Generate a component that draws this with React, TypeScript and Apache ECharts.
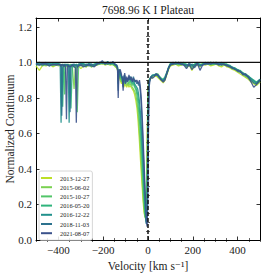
import React, { useEffect, useRef } from "react";
import * as echarts from "echarts";

// Velocity grid (km/s), shared by all epochs
const VELOCITY = [
  -500, -485, -470, -455, -440, -425, -410,
  -398, -392, -388, -385, -381, -376, -372, -368, -364, -360, -356, -352, -348, -344, -338, -330, -324, -320, -316, -310,
  -300, -288, -276, -264, -252, -240, -228, -216, -204, -192, -180, -168, -156, -146,
  -140, -136, -133, -130, -124, -118, -114, -111, -108, -104, -100, -95, -90, -85, -80, -75, -70, -65, -60, -55, -50,
  -46, -42, -38, -34, -30, -26, -22, -18, -14, -10, -7, -4, -1, 2, 5, 9, 14, 20,
  28, 36, 44, 52, 60, 68, 76, 84, 92, 100,
  112, 124, 136, 148, 160, 172, 184, 196, 208, 220, 232, 244,
  256, 268, 280, 292, 304, 316, 328, 340, 352, 364, 376, 388, 400, 412, 424, 436, 448, 460, 472, 484, 500,
];

const EPOCHS = ["2013-12-27", "2015-06-02", "2015-10-27", "2016-05-20", "2016-12-22", "2018-11-03", "2021-08-07"];
const COLORS = ["#bddf26", "#7ad151", "#52c569", "#2fb47c", "#21918c", "#2c728e", "#3b528b"];

const FLUX_2013 = [
  0.98, 0.955, 0.985, 0.98, 0.99, 0.975, 0.985,
  0.98, 0.985, 0.975, 0.98, 0.985, 0.975, 0.98, 0.985, 0.975, 0.98, 0.985, 0.975, 0.98, 0.985, 0.975, 0.98, 0.97, 0.985, 0.975, 0.98,
  0.965, 0.98, 0.975, 0.985, 0.975, 0.98, 0.985, 0.99, 0.995, 0.985, 0.99, 0.985, 0.99, 0.975,
  0.97, 0.955, 0.94, 0.93, 0.9, 0.88, 0.89, 0.87, 0.86, 0.88, 0.87, 0.86, 0.88, 0.86, 0.87, 0.86, 0.85, 0.84, 0.82, 0.79, 0.75,
  0.7, 0.63, 0.55, 0.46, 0.38, 0.3, 0.22, 0.16, 0.13, 0.14, 0.25, 0.55, 0.8, 0.88, 0.9, 0.905, 0.91, 0.915,
  0.92, 0.925, 0.915, 0.905, 0.895, 0.885, 0.9, 0.93, 0.96, 0.98,
  0.985, 0.99, 0.98, 0.985, 0.99, 0.97, 0.985, 0.955, 0.98, 0.985, 0.975, 0.99,
  0.985, 0.99, 0.98, 0.985, 0.99, 0.98, 0.975, 0.985, 0.975, 0.97, 0.96, 0.955, 0.945, 0.935, 0.925, 0.915, 0.905, 0.89, 0.88, 0.87, 0.89,
];

const FLUX_2015A = [
  0.985, 0.99, 0.98, 0.995, 0.99, 0.98, 0.99,
  0.985, 0.99, 0.98, 0.985, 0.99, 0.98, 0.985, 0.99, 0.98, 0.985, 0.99, 0.98, 0.985, 0.975, 0.98, 0.85, 0.98, 0.975, 0.98, 0.985,
  0.98, 0.985, 0.975, 0.99, 0.98, 0.985, 0.99, 0.995, 0.99, 1.0, 0.99, 0.995, 0.985, 0.98,
  0.97, 0.96, 0.93, 0.94, 0.91, 0.89, 0.9, 0.88, 0.875, 0.89, 0.88, 0.87, 0.885, 0.87, 0.88, 0.87, 0.86, 0.85, 0.84, 0.82, 0.78,
  0.74, 0.68, 0.6, 0.52, 0.43, 0.34, 0.25, 0.18, 0.13, 0.12, 0.2, 0.45, 0.75, 0.87, 0.9, 0.91, 0.915, 0.92,
  0.93, 0.93, 0.92, 0.915, 0.9, 0.895, 0.905, 0.935, 0.965, 0.985,
  0.99, 0.995, 0.985, 0.99, 0.995, 0.98, 0.985, 0.97, 0.985, 0.99, 0.985, 0.995,
  0.99, 0.995, 0.985, 0.99, 1.0, 0.99, 0.985, 0.99, 0.98, 0.975, 0.965, 0.96, 0.95, 0.945, 0.93, 0.92, 0.91, 0.895, 0.885, 0.875, 0.89,
];

const FLUX_2015B = [
  0.99, 0.985, 0.995, 0.99, 0.98, 0.99, 0.985,
  0.99, 0.985, 0.99, 0.98, 0.985, 0.99, 0.82, 0.985, 0.98, 0.99, 0.985, 0.98, 0.99, 0.985, 0.98, 0.975, 0.985, 0.98, 0.72, 0.98,
  0.985, 0.98, 0.99, 0.985, 0.975, 0.99, 0.985, 0.995, 1.0, 0.99, 0.995, 0.99, 0.995, 0.98,
  0.975, 0.97, 0.92, 0.95, 0.92, 0.9, 0.89, 0.88, 0.9, 0.89, 0.88, 0.9, 0.89, 0.88, 0.9, 0.88, 0.87, 0.88, 0.86, 0.85, 0.82,
  0.78, 0.73, 0.67, 0.59, 0.5, 0.41, 0.31, 0.22, 0.15, 0.12, 0.14, 0.3, 0.68, 0.86, 0.895, 0.91, 0.92, 0.925,
  0.925, 0.935, 0.935, 0.92, 0.905, 0.9, 0.91, 0.94, 0.97, 0.99,
  0.995, 0.99, 1.0, 0.985, 0.99, 0.975, 0.99, 0.975, 0.99, 1.0, 0.98, 0.99,
  0.995, 0.99, 1.0, 0.99, 0.995, 0.99, 0.985, 0.995, 0.99, 0.98, 0.97, 0.965, 0.96, 0.95, 0.94, 0.93, 0.915, 0.905, 0.895, 0.88, 0.895,
];

const FLUX_2016A = [
  0.985, 0.995, 0.99, 1.0, 0.985, 0.995, 0.99,
  0.995, 0.99, 0.985, 0.98, 0.75, 0.975, 0.985, 0.99, 0.985, 0.98, 0.99, 0.985, 0.975, 0.74, 0.975, 0.99, 0.98, 0.99, 0.985, 0.99,
  0.99, 0.995, 0.98, 0.99, 0.985, 0.99, 1.0, 0.99, 1.0, 0.99, 1.0, 0.995, 0.99, 0.985,
  0.98, 0.97, 0.9, 0.95, 0.93, 0.92, 0.9, 0.89, 0.88, 0.91, 0.9, 0.89, 0.9, 0.91, 0.9, 0.89, 0.88, 0.89, 0.87, 0.86, 0.84,
  0.82, 0.78, 0.73, 0.66, 0.58, 0.48, 0.37, 0.27, 0.18, 0.11, 0.1, 0.22, 0.6, 0.84, 0.9, 0.905, 0.92, 0.925,
  0.93, 0.93, 0.925, 0.92, 0.91, 0.905, 0.92, 0.945, 0.975, 0.995,
  0.99, 1.0, 0.995, 0.99, 1.0, 0.985, 0.99, 0.98, 0.99, 0.995, 0.985, 0.99,
  0.99, 1.0, 0.995, 0.99, 0.995, 0.985, 1.0, 0.99, 0.985, 0.985, 0.97, 0.97, 0.955, 0.955, 0.94, 0.935, 0.925, 0.91, 0.9, 0.89, 0.905,
];

const FLUX_2016B = [
  0.99, 1.0, 0.99, 0.985, 0.995, 0.99, 0.995,
  0.99, 0.985, 0.66, 0.975, 0.99, 0.985, 0.99, 0.98, 0.99, 0.985, 0.975, 0.66, 0.975, 0.985, 0.99, 0.98, 0.985, 0.99, 0.98, 0.985,
  0.995, 0.99, 0.985, 0.995, 0.99, 0.98, 0.99, 1.0, 1.0, 0.995, 1.005, 0.99, 1.0, 0.99,
  0.985, 0.975, 0.88, 0.96, 0.94, 0.91, 0.92, 0.87, 0.9, 0.92, 0.89, 0.905, 0.91, 0.9, 0.92, 0.91, 0.89, 0.9, 0.88, 0.87, 0.86,
  0.85, 0.82, 0.78, 0.72, 0.64, 0.54, 0.43, 0.32, 0.21, 0.12, 0.09, 0.16, 0.5, 0.8, 0.89, 0.9, 0.92, 0.93,
  0.93, 0.935, 0.93, 0.915, 0.905, 0.9, 0.915, 0.94, 0.97, 0.99,
  1.0, 0.995, 0.99, 1.0, 0.985, 0.99, 0.98, 0.99, 0.985, 0.995, 0.99, 0.985,
  1.0, 0.995, 0.99, 0.995, 1.0, 0.99, 0.995, 0.985, 0.99, 0.98, 0.975, 0.965, 0.96, 0.95, 0.935, 0.93, 0.92, 0.91, 0.895, 0.885, 0.9,
];

const FLUX_2018 = [
  0.995, 0.99, 0.985, 0.995, 0.99, 0.985, 0.99,
  0.985, 0.99, 0.975, 0.7, 0.97, 0.985, 0.99, 0.98, 0.985, 0.99, 0.975, 0.98, 0.72, 0.975, 0.985, 0.99, 0.98, 0.985, 0.975, 0.99,
  0.99, 0.985, 0.99, 0.98, 0.99, 0.985, 0.995, 1.0, 0.995, 1.0, 0.99, 1.0, 0.995, 0.99,
  0.985, 0.97, 0.84, 0.96, 0.95, 0.92, 0.91, 0.86, 0.92, 0.93, 0.9, 0.91, 0.9, 0.92, 0.91, 0.9, 0.9, 0.92, 0.89, 0.9, 0.88,
  0.89, 0.87, 0.88, 0.83, 0.76, 0.65, 0.52, 0.4, 0.27, 0.16, 0.09, 0.1, 0.35, 0.7, 0.88, 0.91, 0.915, 0.925,
  0.925, 0.93, 0.925, 0.91, 0.9, 0.895, 0.91, 0.935, 0.965, 0.99,
  0.995, 0.99, 1.0, 0.99, 0.99, 0.98, 0.995, 0.985, 0.97, 0.99, 0.98, 0.99,
  0.995, 0.99, 1.0, 0.995, 0.99, 0.995, 0.985, 0.99, 0.985, 0.98, 0.965, 0.965, 0.95, 0.945, 0.94, 0.925, 0.92, 0.9, 0.885, 0.88, 0.905,
];

const FLUX_2021 = [
  0.99, 0.985, 0.995, 0.99, 0.98, 0.99, 0.985,
  0.99, 0.985, 0.98, 0.99, 0.985, 0.98, 0.985, 0.97, 0.68, 0.97, 0.985, 0.98, 0.975, 0.98, 0.985, 0.975, 0.97, 0.66, 0.97, 0.98,
  0.985, 0.975, 0.98, 0.99, 0.98, 0.975, 0.99, 0.995, 1.01, 0.99, 1.0, 0.995, 1.005, 0.985,
  0.98, 0.96, 0.8, 0.95, 0.96, 0.93, 0.9, 0.84, 0.91, 0.94, 0.88, 0.92, 0.89, 0.93, 0.9, 0.92, 0.89, 0.91, 0.9, 0.89, 0.9,
  0.89, 0.88, 0.9, 0.86, 0.8, 0.7, 0.58, 0.45, 0.32, 0.2, 0.1, 0.075, 0.2, 0.6, 0.86, 0.9, 0.92, 0.91,
  0.92, 0.935, 0.93, 0.915, 0.9, 0.89, 0.9, 0.94, 0.97, 0.985,
  0.99, 1.0, 0.995, 0.99, 0.985, 0.965, 0.99, 0.96, 0.98, 0.995, 0.955, 0.985,
  0.99, 0.995, 0.99, 1.0, 0.995, 0.985, 0.99, 0.99, 0.98, 0.975, 0.97, 0.96, 0.955, 0.95, 0.93, 0.935, 0.915, 0.89, 0.86, 0.875, 0.9,
];

const FLUXES = [FLUX_2013, FLUX_2015A, FLUX_2015B, FLUX_2016A, FLUX_2016B, FLUX_2018, FLUX_2021];

const X_MAJOR = [-400, -200, 0, 200, 400];
const X_MINOR = [-500, -450, -350, -300, -250, -150, -100, -50, 50, 100, 150, 250, 300, 350, 450, 500];
const Y_MAJOR = [0, 0.2, 0.4, 0.6, 0.8, 1.0, 1.2];
const Y_MINOR = [0.05, 0.1, 0.15, 0.25, 0.3, 0.35, 0.45, 0.5, 0.55, 0.65, 0.7, 0.75, 0.85, 0.9, 0.95, 1.05, 1.1, 1.15, 1.25];

const TITLE = "7698.96 K I Plateau";
const X_NAME = "Velocity [km s⁻¹]";
const Y_NAME = "Normalized Continuum";

const FONT = "'Liberation Serif', 'DejaVu Serif', serif";

export default function App() {
  const ref = useRef<HTMLDivElement>(null);

  useEffect(() => {
    document.body.style.margin = "0";
    if (!ref.current) return;
    const chart = echarts.init(ref.current, null, { renderer: "svg" });

    const tickColor = "#000";
    const xAxisBase = {
      type: "value",
      min: -500,
      max: 500,
      splitLine: { show: false },
    };
    const yAxisBase = {
      type: "value",
      min: 0,
      max: 1.25,
      splitLine: { show: false },
    };
    const axisLine = { show: true, onZero: false, lineStyle: { color: tickColor, width: 1 } };

    const xAxes = [
      {
        ...xAxisBase,
        position: "bottom",
        axisLine,
        axisTick: { show: true, inside: true, length: 3.5, customValues: X_MAJOR, lineStyle: { color: tickColor, width: 0.8 } },
        axisLabel: {
          show: true,
          customValues: X_MAJOR,
          formatter: (v: number) => (v < 0 ? "\u2212" + Math.abs(v) : String(v)),
          fontFamily: FONT,
          fontSize: 11,
          color: "#222",
          margin: 4,
        },
        name: X_NAME,
        nameLocation: "middle",
        nameGap: 19,
        nameTextStyle: { fontFamily: FONT, fontSize: 11.5, color: "#222" },
      },
      {
        ...xAxisBase,
        position: "bottom",
        axisLine: { show: false },
        axisTick: { show: true, inside: true, length: 2, customValues: X_MINOR, lineStyle: { color: tickColor, width: 0.6 } },
        axisLabel: { show: false },
      },
      {
        ...xAxisBase,
        position: "top",
        axisLine,
        axisTick: { show: true, inside: true, length: 3.5, customValues: X_MAJOR, lineStyle: { color: tickColor, width: 0.8 } },
        axisLabel: { show: false },
      },
      {
        ...xAxisBase,
        position: "top",
        axisLine: { show: false },
        axisTick: { show: true, inside: true, length: 2, customValues: X_MINOR, lineStyle: { color: tickColor, width: 0.6 } },
        axisLabel: { show: false },
      },
    ];

    const yAxes = [
      {
        ...yAxisBase,
        position: "left",
        axisLine,
        axisTick: { show: true, inside: true, length: 3.5, customValues: Y_MAJOR, lineStyle: { color: tickColor, width: 0.8 } },
        axisLabel: {
          show: true,
          customValues: Y_MAJOR,
          formatter: (v: number) => v.toFixed(1),
          fontFamily: FONT,
          fontSize: 11,
          color: "#222",
          margin: 4,
        },
      },
      {
        ...yAxisBase,
        position: "left",
        axisLine: { show: false },
        axisTick: { show: true, inside: true, length: 2, customValues: Y_MINOR, lineStyle: { color: tickColor, width: 0.6 } },
        axisLabel: { show: false },
      },
      {
        ...yAxisBase,
        position: "right",
        axisLine,
        axisTick: { show: true, inside: true, length: 3.5, customValues: Y_MAJOR, lineStyle: { color: tickColor, width: 0.8 } },
        axisLabel: { show: false },
      },
      {
        ...yAxisBase,
        position: "right",
        axisLine: { show: false },
        axisTick: { show: true, inside: true, length: 2, customValues: Y_MINOR, lineStyle: { color: tickColor, width: 0.6 } },
        axisLabel: { show: false },
      },
    ];

    const spectra = EPOCHS.map((name, k) => ({
      name,
      type: "line",
      data: VELOCITY.map((v, i) => [v, FLUXES[k][i]]),
      showSymbol: false,
      symbol: "none",
      lineStyle: { color: COLORS[k], width: 1.3, opacity: 0.9 },
      itemStyle: { color: COLORS[k] },
      z: 2 + k,
    }));

    const option = {
      animation: false,
      grid: { left: 36, right: 6, top: 18, bottom: 35, containLabel: false, outerBoundsMode: "none" },
      xAxis: xAxes,
      yAxis: yAxes,
      legend: {
        left: 39,
        top: 171,
        orient: "vertical",
        data: EPOCHS,
        icon: "rect",
        itemWidth: 11,
        itemHeight: 2,
        itemGap: 1.2,
        padding: [3, 3, 3, 2],
        backgroundColor: "rgba(255,255,255,0.85)",
        borderColor: "#cccccc",
        borderWidth: 0.8,
        borderRadius: 2,
        textStyle: { fontFamily: FONT, fontSize: 6.3, color: "#222", lineHeight: 8, padding: [0, 0, 0, 3] },
      },
      graphic: [
        {
          type: "text",
          x: 148,
          y: 10,
          style: {
            text: TITLE,
            textAlign: "center",
            textVerticalAlign: "middle",
            fontFamily: FONT,
            fontSize: 11.5,
            fill: "#222",
          },
        },
        {
          type: "text",
          x: 10,
          y: 129,
          rotation: Math.PI / 2,
          style: {
            text: Y_NAME,
            textAlign: "center",
            textVerticalAlign: "middle",
            fontFamily: FONT,
            fontSize: 11.5,
            fill: "#222",
          },
        },
      ],
      series: [
        ...spectra,
        {
          name: "continuum",
          type: "line",
          data: [[-500, 1], [500, 1]],
          showSymbol: false,
          symbol: "none",
          lineStyle: { color: "#111", width: 1.2 },
          z: 20,
          silent: true,
        },
        {
          name: "rest",
          type: "line",
          data: [[0, 0], [0, 1.25]],
          showSymbol: false,
          symbol: "none",
          lineStyle: { color: "#111", width: 1.5, type: [4, 2] },
          z: 21,
          silent: true,
        },
      ],
    };

    chart.setOption(option as any);
    return () => chart.dispose();
  }, []);

  return <div ref={ref} style={{ width: 266, height: 275 }} />;
}
